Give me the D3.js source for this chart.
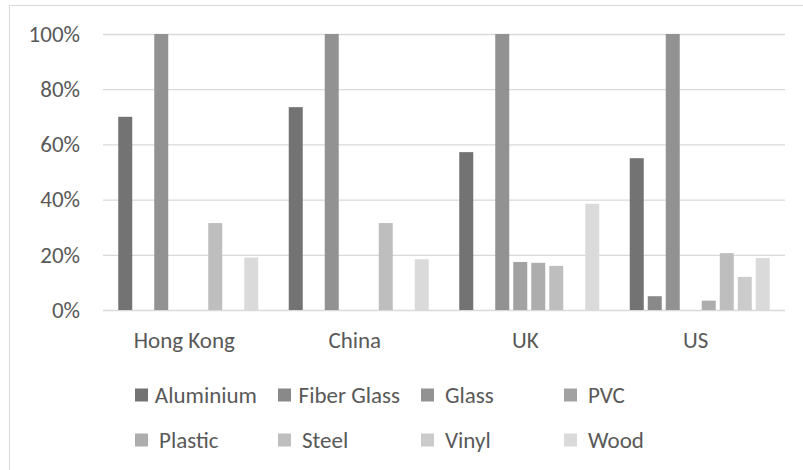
<!DOCTYPE html>
<html>
<head>
<meta charset="utf-8">
<script src="https://cdn.jsdelivr.net/npm/d3@7"></script>
<style>
  html, body { margin: 0; padding: 0; background: #fff; }
  svg text { font-family: Calibri, Carlito, Lato, sans-serif; fill: #595959; }
</style>
</head>
<body>
<svg id="chart" width="803" height="470"></svg>
<script>
// Regions on the x axis
const regions = ["Hong Kong", "China", "UK", "US"];

// Materials, one bar per material in each region
const materials = ["Aluminium", "Fiber Glass", "Glass", "PVC", "Plastic", "Steel", "Vinyl", "Wood"];
const materialColors = ["#737373", "#898989", "#929292", "#a2a2a2", "#adadad", "#bebebe", "#cbcbcb", "#dadada"];

// Share per material, listed in region order
const aluminium  = [0.70, 0.735, 0.572, 0.55];
const fiberGlass = [0, 0, 0, 0.05];
const glass      = [1.00, 1.00, 1.00, 1.00];
const pvc        = [0, 0, 0.174, 0];
const plastic    = [0, 0, 0.171, 0.034];
const steel      = [0.315, 0.315, 0.16, 0.206];
const vinyl      = [0, 0, 0, 0.12];
const wood       = [0.19, 0.184, 0.385, 0.188];

const yTicks = [0, 0.2, 0.4, 0.6, 0.8, 1.0];

const seriesValues = [aluminium, fiberGlass, glass, pvc, plastic, steel, vinyl, wood];

const svg = d3.select("#chart");
const fontSize = 23;
const fontFamily = "Calibri, Carlito, Lato, sans-serif";

// Chart frame
svg.append("rect")
  .attr("x", 9.5).attr("y", 5.5)
  .attr("width", 820).attr("height", 480)
  .attr("fill", "none").attr("stroke", "#d9d9d9").attr("stroke-width", 1);

const plot = { left: 103, right: 785, top: 34, bottom: 310 };

const x0 = d3.scaleBand().domain(regions).range([plot.left, plot.right]).padding(0);
const x1 = d3.scaleBand().domain(materials).range([0, x0.bandwidth()])
  .paddingInner(0.222).paddingOuter(0.847);
const y = d3.scaleLinear().domain([0, 1]).range([plot.bottom, plot.top]);

// Gridlines and percentage labels
const yAxis = d3.axisLeft(y).tickValues(yTicks).tickFormat(d3.format(".0%"))
  .tickSize(-(plot.right - plot.left)).tickPadding(23);
const yg = svg.append("g").attr("transform", `translate(${plot.left},0)`).call(yAxis);
yg.select(".domain").remove();
yg.selectAll(".tick line").attr("stroke", "#d9d9d9").attr("stroke-width", 1.3);
yg.selectAll(".tick text")
  .attr("font-size", fontSize)
  .style("font-family", fontFamily)
  .attr("fill", "#595959");

// Bars
const groups = svg.append("g").selectAll("g")
  .data(regions)
  .join("g")
  .attr("transform", d => `translate(${x0(d)},0)`);

groups.selectAll("rect")
  .data((region, ri) => materials.map((m, mi) => ({ m, mi, v: seriesValues[mi][ri] })))
  .join("rect")
  .filter(d => d.v > 0)
  .attr("x", d => x1(d.m))
  .attr("width", x1.bandwidth())
  .attr("y", d => y(d.v))
  .attr("height", d => y(0) - y(d.v))
  .attr("fill", d => materialColors[d.mi]);

// Region labels
const xAxis = d3.axisBottom(x0).tickSize(0).tickPadding(0);
const xg = svg.append("g").attr("transform", `translate(-4,${plot.bottom})`).call(xAxis);
xg.select(".domain").remove();
xg.selectAll(".tick text")
  .attr("y", 38).attr("dy", 0)
  .attr("font-size", fontSize)
  .style("font-family", fontFamily)
  .attr("fill", "#595959");

// Legend: four columns, two rows
const legendCols = 4;
const colX = i => 135 + i * 143;
const rowY = [395, 440];
const legend = svg.append("g");
materials.forEach((m, i) => {
  const col = i % legendCols, row = Math.floor(i / legendCols);
  const sx = colX(col);
  legend.append("rect")
    .attr("x", sx).attr("y", rowY[row] - 6.5)
    .attr("width", 13).attr("height", 13)
    .attr("fill", materialColors[i]);
  const t = legend.append("text")
    .attr("y", rowY[row] + 8)
    .attr("font-size", fontSize)
    .style("font-family", fontFamily)
    .text(m);
  const w = t.node().getComputedTextLength();
  const nextX = col < legendCols - 1 ? colX(col + 1) : 803;
  // long labels sit closer to their swatch
  const tx = Math.min(sx + 24, Math.max(sx + 18, nextX - 21 - w));
  t.attr("x", tx);
});
</script>
</body>
</html>
